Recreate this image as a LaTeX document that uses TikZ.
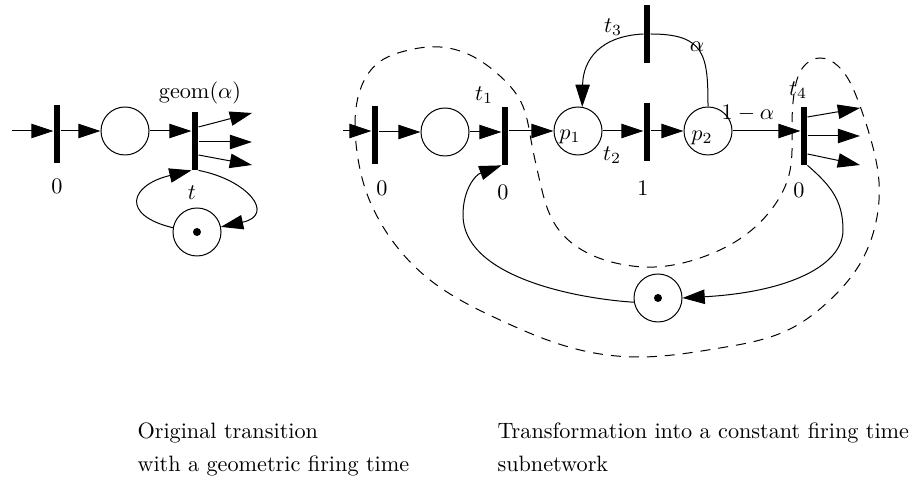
\documentclass[tikz,border=0pt]{standalone}
\usepackage{amsmath}
\usetikzlibrary{calc, hobby, arrows.meta}

\begin{document}
\begin{tikzpicture}[x=0.45pt, y=-0.45pt, line width=0.45pt,
		bar/.style={fill=black, inner sep=0pt, minimum width=2.7pt, minimum height=26pt},
		place/.style={draw, circle, inner sep=0pt, minimum size=21.6pt},
		arr/.style={-{Triangle[length=10pt, width=6.5pt]}}]
					\useasboundingbox (0,0) rectangle (915,478);
					
					% original transition
					\begin{scope}
						\coordinate (inL) at (12,131);
						\node [bar] (tz) at (57,134) {};
						\node [place] (pa) at (125,131) {};
						\node [bar] (tg) at (195,141) {};
						\node [place] (pt) at (197,232) {};
						\fill (pt) circle (1.8pt);
						
						\draw [arr] (inL) -- (inL -| tz.west);
						\draw [arr] (tz.east |- pa) -- (pa);
						\draw [arr] (pa) -- (pa -| tg.west);
						\foreach \i/\dy/\ty in {1/-14/113, 2/1/142, 3/14/165} {
							\coordinate (go\i) at (252,\ty);
							\draw [arr] ($ (tg.east) + (0,\dy) $) -- (go\i);
						}
						\draw [arr] (pt.170) .. controls (120,215) and (130,185) .. (tg.south west);
						\draw [arr] (tg.south east) .. controls (248,180) and (276,215) .. (pt.12);
						
						\node (lz) at (57,186) {0};
						\node (lgeom) at (200,93) {geom($\alpha$)};
						\node (lt) at (192,193) {$t$};
					\end{scope}
					
					% constant firing time subnetwork
					\begin{scope}
						\coordinate (inR) at (343,131);
						\node [bar] (tr) at (375,135) {};
						\node [place] (pb) at (445,132) {};
						\node [bar] (t1) at (505,136) {};
						\node [place] (p1) at (578,131) {};
						\node [bar] (t2) at (647,132) {};
						\node [place] (p2) at (708,131) {};
						\node [bar] (t3) at (647,34) {};
						\node [bar] (t4) at (804,136) {};
						\node [place] (pk) at (658,298) {};
						\fill (pk) circle (1.8pt);
						
						\draw [arr] (inR) -- (inR -| tr.west);
						\draw [arr] (tr.east |- pb) -- (pb);
						\draw [arr] (pb) -- (pb -| t1.west);
						\draw [arr] (t1.east |- p1) -- (p1);
						\draw [arr] (p1) -- (p1 -| t2.west);
						\draw [arr] (t2.east |- p2) -- (p2);
						\draw [arr] (p2) -- (p2 -| t4.west);
						\draw [arr] (t3.west) .. controls (600,36) and (583,60) .. (p1.80);
						\draw (p2.north) .. controls (708,55) and (705,34) .. (t3.east);
						\foreach \i/\dy/\ty in {1/-19/108, 2/0/136, 3/18/165} {
							\coordinate (ro\i) at (860,\ty);
							\draw [arr] ($ (t4.east) + (0,\dy) $) -- (ro\i);
						}
						\draw [arr] (t4.south east) .. controls (830,185) and (843,200) .. (843,230) .. controls (843,265) and (790,292) .. (pk.east);
						\draw [arr] (pk.190) .. controls (570,298) and (463,275) .. (463,215) .. controls (463,190) and (475,175) .. (t1.south west);
						
						\draw [dash pattern=on 4.5pt off 3.6pt, use Hobby shortcut, closed=true]
							(355,125) .. (362,85) .. (378,63) .. (405,51) .. (440,47) .. (472,56) .. (500,76) .. (521,102) .. (531,140) .. (540,182) .. (556,226) .. (582,250) .. (620,264) .. (655,267) .. (700,258) .. (744,236) .. (774,206) .. (789,175) .. (792,130) .. (795,88) .. (806,64) .. (820,58) .. (838,66) .. (857,98) .. (871,140) .. (879,182) .. (876,222) .. (861,262) .. (830,300) .. (788,330) .. (720,348) .. (640,357) .. (580,350) .. (500,320) .. (430,280) .. (385,230) .. (364,185) .. (357,152);
						
						\node (la) at (382,188) {0};
						\node (lb) at (503,192) {0};
						\node (lc) at (643,188) {1};
						\node (ld) at (799,190) {0};
						\node (lt1) at (484,95) {$t_1$};
						\node (lt2) at (612,155) {$t_2$};
						\node (lt3) at (613,27) {$t_3$};
						\node (lt4) at (798,90) {$t_4$};
						\node (lp1) at (570,137) {$p_1$};
						\node (lp2) at (702,138) {$p_2$};
						\node (lal) at (697,47) {$\alpha$};
						\node (lnal) at (748,113) {$1-\alpha$};
					\end{scope}
					
					\node [anchor=north west, align=left, inner sep=0pt] (capL) at (137,422) {Original transition\\[3pt] with a geometric firing time};
					\node [anchor=north west, align=left, inner sep=0pt] (capR) at (497,422) {Transformation into a constant firing time\\[3pt] subnetwork};
				\end{tikzpicture}
\end{document}
